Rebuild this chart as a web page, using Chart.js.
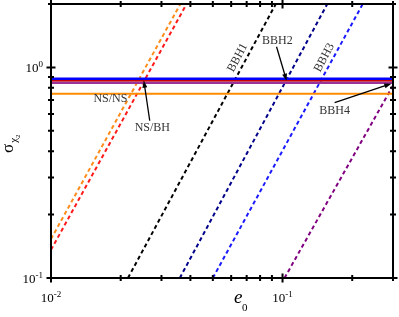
<!DOCTYPE html>
<html>
<head>
<meta charset="utf-8">
<script src="https://cdn.jsdelivr.net/npm/chart.js@4.4.1/dist/chart.umd.min.js"></script>
<style>
html,body{margin:0;padding:0;background:#fff;}
canvas{display:block;}
</style>
</head>
<body>
<canvas id="c" width="399" height="317"></canvas>
<script>
// ---- data ----
const xRange = [0.01, 0.3];
const yRange = [0.1, 2];
// horizontal levels of sigma_chi2
const levelNames  = ["BBH3", "BBH2", "BBH4", "NS/NS"];
const levelValues = [0.884, 0.865, 0.846, 0.75];
// dashed curves: [e0, sigma] end points
const curveNames = ["NS/NS", "NS/BH", "BBH1", "BBH2", "BBH3", "BBH4"];
const curveE0    = [[0.01, 0.0362], [0.01, 0.0385], [0.0215, 0.0935], [0.036, 0.156], [0.05, 0.222], [0.102, 0.3]];
const curveSigma = [[0.153, 2], [0.136, 2], [0.1, 2], [0.1, 2], [0.1, 2], [0.1, 0.82]];
// tick values
const xMajorTicks = [0.01, 0.1];
const xMinorTicks = [0.02,0.03,0.04,0.05,0.06,0.07,0.08,0.09,0.2,0.3];
const yMajorTicks = [0.1, 1];
const yMinorTicks = [0.2,0.3,0.4,0.5,0.6,0.7,0.8,0.9,2];
const xTickLabels = [["10","-2"],["10","-1"]];
const yTickLabels = [["10","-1"],["10","0"]];
// annotations: text, position (e0, sigma), rotation
const annTexts = ["NS/NS","NS/BH","BBH2","BBH4","BBH1","BBH3"];
const annE0    = [0.01805, 0.0274, 0.0950, 0.1679, 0.0640, 0.1517];
const annSigma = [0.710, 0.517, 1.34, 0.622, 1.112, 1.112];
const annRot   = [0, 0, 0, 0, -62, -62];
// arrows: from -> to, in (e0, sigma)
const arrowFrom = [[0.0267, 0.558], [0.0942, 1.254], [0.1679, 0.680]];
const arrowTo   = [[0.02517, 0.865], [0.1041, 0.865], [0.295, 0.837]];

const curveColors = ["#ff8c1a", "#ff1a1a", "#000000", "#00008b", "#1a1aff", "#800080"];
const levelColors = ["#0000ff", "#cc0000", "#993399", "#ff8c00"];
const levelWidths = [2.5, 1.5, 2.5, 2];

const datasets = [];
levelValues.forEach((v, i) => {
  datasets.push({
    label: levelNames[i],
    data: [{x: xRange[0], y: v}, {x: xRange[1], y: v}],
    borderColor: levelColors[i], borderWidth: levelWidths[i],
    showLine: true, pointRadius: 0, order: 1
  });
});
curveNames.forEach((n, i) => {
  datasets.push({
    label: n,
    data: [{x: curveE0[i][0], y: curveSigma[i][0]}, {x: curveE0[i][1], y: curveSigma[i][1]}],
    borderColor: curveColors[i], borderWidth: 2, borderDash: [4, 3],
    showLine: true, pointRadius: 0, order: 2
  });
});

const SERIF = '"Liberation Serif", "Times New Roman", serif';

function supText(ctx, base, sup, x, y, align, size) {
  ctx.font = size + "px " + SERIF;
  const wb = ctx.measureText(base).width;
  ctx.font = Math.round(size * 0.7) + "px " + SERIF;
  const ws = ctx.measureText(sup).width;
  const total = wb + ws;
  let x0 = align === "right" ? x - total : x - total / 2;
  ctx.textAlign = "left";
  ctx.textBaseline = "alphabetic";
  ctx.font = size + "px " + SERIF;
  ctx.fillText(base, x0, y);
  ctx.font = Math.round(size * 0.7) + "px " + SERIF;
  ctx.fillText(sup, x0 + wb, y - size * 0.42);
}

function arrow(ctx, x1, y1, x2, y2) {
  const a = Math.atan2(y2 - y1, x2 - x1);
  const L = 7, W = 2.5;
  ctx.beginPath();
  ctx.moveTo(x1, y1);
  ctx.lineTo(x2 - Math.cos(a) * L * 0.8, y2 - Math.sin(a) * L * 0.8);
  ctx.stroke();
  ctx.beginPath();
  ctx.moveTo(x2, y2);
  ctx.lineTo(x2 - Math.cos(a) * L - Math.sin(a) * W, y2 - Math.sin(a) * L + Math.cos(a) * W);
  ctx.lineTo(x2 - Math.cos(a) * L + Math.sin(a) * W, y2 - Math.sin(a) * L - Math.cos(a) * W);
  ctx.closePath();
  ctx.fill();
}

const decor = {
  id: "decor",
  afterDatasetsDraw(chart) {
    const ctx = chart.ctx;
    const xs = chart.scales.x, ys = chart.scales.y;
    const a = chart.chartArea;
    ctx.save();
    // annotations
    ctx.fillStyle = "#333";
    ctx.font = "12px " + SERIF;
    ctx.textAlign = "center";
    ctx.textBaseline = "middle";
    annTexts.forEach((t, i) => {
      const px = xs.getPixelForValue(annE0[i]);
      const py = ys.getPixelForValue(annSigma[i]);
      ctx.save();
      ctx.translate(px, py);
      ctx.rotate(annRot[i] * Math.PI / 180);
      ctx.fillText(t, 0, 0);
      ctx.restore();
    });
    ctx.strokeStyle = "#000";
    ctx.fillStyle = "#000";
    ctx.lineWidth = 1.3;
    arrowFrom.forEach((f, i) => {
      arrow(ctx, xs.getPixelForValue(f[0]), ys.getPixelForValue(f[1]),
        xs.getPixelForValue(arrowTo[i][0]), ys.getPixelForValue(arrowTo[i][1]));
    });
    // frame
    ctx.strokeStyle = "#000";
    ctx.lineWidth = 2;
    ctx.strokeRect(a.left, a.top, a.right - a.left, a.bottom - a.top);
    // ticks
    ctx.lineWidth = 2;
    ctx.beginPath();
    const xt = (v, len) => {
      const p = xs.getPixelForValue(v);
      ctx.moveTo(p, a.bottom - len); ctx.lineTo(p, a.bottom + len);
      ctx.moveTo(p, a.top - len); ctx.lineTo(p, a.top + len);
    };
    const yt = (v, len) => {
      const p = ys.getPixelForValue(v);
      ctx.moveTo(a.left - len, p); ctx.lineTo(a.left + len, p);
      ctx.moveTo(a.right - len, p); ctx.lineTo(a.right + len, p);
    };
    xMajorTicks.forEach(v => xt(v, 4.5));
    xMinorTicks.forEach(v => xt(v, 3));
    yMajorTicks.forEach(v => yt(v, 4.5));
    yMinorTicks.forEach(v => yt(v, 3));
    ctx.stroke();
    // tick labels
    ctx.fillStyle = "#000";
    xMajorTicks.forEach((v, i) => {
      supText(ctx, xTickLabels[i][0], xTickLabels[i][1], xs.getPixelForValue(v), a.bottom + 24, "center", 13);
    });
    yMajorTicks.forEach((v, i) => {
      supText(ctx, yTickLabels[i][0], yTickLabels[i][1], a.left - 8, ys.getPixelForValue(v) + 5, "right", 13);
    });
    // x title e0
    ctx.textAlign = "left";
    ctx.textBaseline = "alphabetic";
    ctx.font = "italic 19px " + SERIF;
    const ex = 234;
    ctx.fillText("e", ex, 303);
    ctx.font = "11px " + SERIF;
    ctx.fillText("0", ex + 8, 311);
    // y title sigma_chi2
    ctx.save();
    ctx.translate(13, 153);
    ctx.rotate(-Math.PI / 2);
    ctx.font = "17px " + SERIF;
    ctx.fillText("\u03C3", 0, 0);
    const ws = ctx.measureText("\u03C3").width;
    ctx.font = "11px " + SERIF;
    ctx.fillText("\u03C7", ws + 1, 4);
    const wc = ctx.measureText("\u03C7").width;
    ctx.font = "7px " + SERIF;
    ctx.fillText("2", ws + 1 + wc, 7);
    ctx.restore();
    ctx.restore();
  }
};

new Chart(document.getElementById("c"), {
  type: "scatter",
  data: { datasets },
  options: {
    responsive: false,
    animation: false,
    layout: { padding: { left: 51, top: 4, right: 6, bottom: 39 } },
    plugins: { legend: { display: false }, tooltip: { enabled: false } },
    scales: {
      x: { type: "logarithmic", min: xRange[0], max: xRange[1], display: false },
      y: { type: "logarithmic", min: yRange[0], max: yRange[1], display: false }
    }
  },
  plugins: [decor]
});
</script>
</body>
</html>
